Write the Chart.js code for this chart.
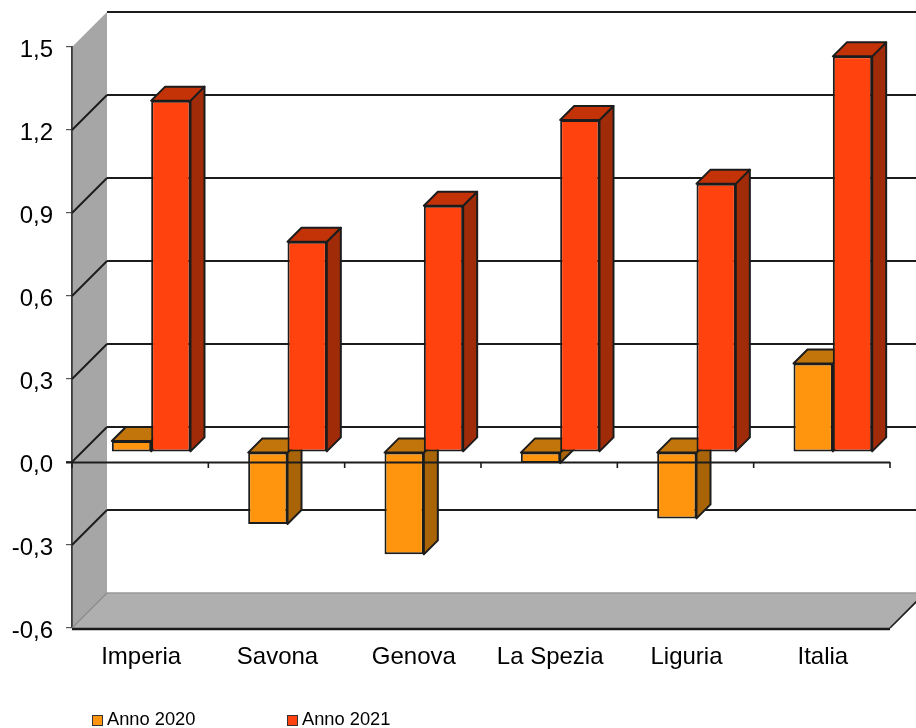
<!DOCTYPE html>
<html>
<head>
<meta charset="utf-8">
<style>html,body{margin:0;padding:0;background:#fff}canvas{display:block}</style>
<script src="https://cdn.jsdelivr.net/npm/chart.js@4"></script>
</head>
<body>
<canvas id="c" width="916" height="728"></canvas>
<script>
const categories = ['Imperia','Savona','Genova','La Spezia','Liguria','Italia'];
const anno2020 = [0.04,-0.26,-0.37,-0.04,-0.24,0.32];
const anno2021 = [1.27,0.76,0.89,1.20,0.97,1.43];
const seriesNames = ['Anno 2020','Anno 2021'];

const FONT = '"Liberation Sans", Arial, sans-serif';
const WALL = 35, BAR_D = 14, SHIFT_X = 11, SHIFT_Y = -10;
const LINE = '#1C1C1C';
const shades = [
  {front:'#FF950E', top:'#C2750A', side:'#A86407'},
  {front:'#FF420E', top:'#C43308', side:'#A02B08'}
];

function poly(ctx, pts, fill, stroke, lw){
  ctx.beginPath();
  pts.forEach((p,i)=> i ? ctx.lineTo(p[0],p[1]) : ctx.moveTo(p[0],p[1]));
  ctx.closePath();
  if(fill){ctx.fillStyle=fill;ctx.fill();}
  if(stroke){ctx.strokeStyle=stroke;ctx.lineWidth=lw||1.5;ctx.lineJoin='round';ctx.stroke();}
}
function seg(ctx,x1,y1,x2,y2,color,lw){
  ctx.beginPath();ctx.moveTo(x1,y1);ctx.lineTo(x2,y2);
  ctx.strokeStyle=color;ctx.lineWidth=lw;ctx.stroke();
}

const scene = {
  id:'scene',
  beforeDraw(chart){
    const {ctx,chartArea:a}=chart;
    ctx.save();
    ctx.fillStyle='#fff';ctx.fillRect(0,0,chart.width,chart.height);
    poly(ctx,[[a.left,a.top],[a.left+WALL,a.top-WALL],[a.left+WALL,a.bottom-WALL],[a.left,a.bottom]],'#A6A6A6');
    poly(ctx,[[a.left,a.bottom],[a.left+WALL,a.bottom-WALL],[a.right+WALL,a.bottom-WALL],[a.right,a.bottom]],'#AFAFAF');
    ctx.restore();
  },
  beforeDatasetsDraw(chart){
    const {ctx,chartArea:a,scales:{y}}=chart;
    ctx.save();
    y.ticks.forEach(t=>{
      const py=y.getPixelForValue(t.value);
      if(t.value===y.min){
        seg(ctx,a.left+WALL,py-WALL,a.right+WALL,py-WALL,'#999999',1.5);
        seg(ctx,a.left,py,a.left+WALL,py-WALL,'#8C8C8C',1.2);
        return;
      }
      seg(ctx,a.left+WALL,py-WALL,a.right+WALL,py-WALL,LINE,2);
      if(t.value!==y.max) seg(ctx,a.left,py,a.left+WALL,py-WALL,LINE,2);
    });
    ctx.restore();
    // paint first series first, so the second one sits in front of it
    chart.data.datasets.forEach((d,i)=>{
      const meta=chart.getDatasetMeta(i), s=shades[i];
      ctx.save();
      ctx.translate(SHIFT_X,SHIFT_Y);
      meta.data.forEach(el=>{
        const {x,y:vy,base,width}=el.getProps(['x','y','base','width'],true);
        const l=x-width/2,r=x+width/2,t=Math.min(vy,base),b=Math.max(vy,base);
        poly(ctx,[[r,t],[r+BAR_D,t-BAR_D],[r+BAR_D,b-BAR_D],[r,b]],s.side,LINE,2);
        poly(ctx,[[l,t],[l+BAR_D,t-BAR_D],[r+BAR_D,t-BAR_D],[r,t]],s.top,LINE,2);
      });
      meta.controller.draw();
      ctx.restore();
    });
  },
  beforeDatasetDraw(){ return false; },
  afterDatasetsDraw(chart){
    const {ctx,chartArea:a,scales:{y}}=chart;
    ctx.save();
    const z=y.getPixelForValue(0);
    seg(ctx,a.left-6,z+0.5,a.right,z+0.5,LINE,2);
    const step=(a.right-a.left)/categories.length;
    for(let i=0;i<=categories.length;i++){
      const px=a.left+i*step;
      seg(ctx,px,z,px,z+6,LINE,1.6);
    }
    seg(ctx,a.left,a.bottom+1,a.right,a.bottom+1,'#1A1A1A',2.4);
    seg(ctx,a.right,a.bottom,a.right+WALL,a.bottom-WALL,LINE,1.6);
    ctx.restore();
  },
  afterDraw(chart){
    const {ctx}=chart;
    const boxX=[92.5,287.5];
    ctx.save();
    ctx.font='18.3px '+FONT;
    ctx.textAlign='left';ctx.textBaseline='alphabetic';
    chart.data.datasets.forEach((d,i)=>{
      ctx.fillStyle=d.backgroundColor;
      ctx.fillRect(boxX[i],715.5,10,10);
      ctx.strokeStyle='#333';ctx.lineWidth=1;
      ctx.strokeRect(boxX[i],715.5,10,10);
      ctx.fillStyle='#000';
      ctx.fillText(d.label,boxX[i]+14.5,725);
    });
    ctx.restore();
  }
};

new Chart(document.getElementById('c'),{
  type:'bar',
  data:{
    labels:categories,
    datasets:[
      {label:seriesNames[0],data:anno2020,backgroundColor:shades[0].front,borderColor:LINE,borderWidth:2,borderSkipped:false},
      {label:seriesNames[1],data:anno2021,backgroundColor:shades[1].front,borderColor:LINE,borderWidth:2,borderSkipped:false}
    ]
  },
  options:{
    responsive:false,
    animation:false,
    devicePixelRatio:1,
    layout:{padding:{top:47,right:26,left:0,bottom:0}},
    categoryPercentage:0.577,
    barPercentage:1,
    plugins:{legend:{display:false},tooltip:{enabled:false}},
    scales:{
      x:{
        grid:{display:false,drawTicks:false},
        border:{display:false},
        ticks:{color:'#000',font:{family:FONT,size:24},padding:15,labelOffset:1,maxRotation:0,autoSkip:false},
        afterFit(s){s.height=100;}
      },
      y:{
        min:-0.6,max:1.5,
        grid:{drawOnChartArea:false,tickLength:6,color:'#555555',lineWidth:1.2},
        border:{display:true,color:'#3C3C3C',width:1.8},
        ticks:{stepSize:0.3,color:'#000',font:{family:FONT,size:24},padding:13,labelOffset:3,
          callback(v){return v.toFixed(1).replace('.',',');}},
        afterFit(s){s.width=72;}
      }
    }
  },
  plugins:[scene]
});
</script>
</body>
</html>
